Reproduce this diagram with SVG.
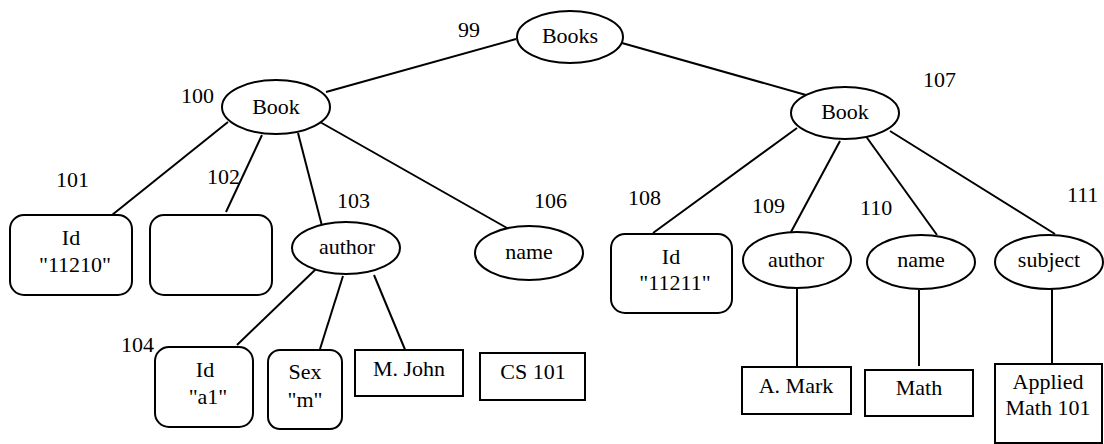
<svg xmlns="http://www.w3.org/2000/svg" width="1104" height="444" viewBox="0 0 1104 444">
<style>
.n{fill:#fff;stroke:#000;stroke-width:2}
text{font-family:'Liberation Serif','DejaVu Serif',serif;font-size:22px;fill:#000}
.t{text-anchor:middle}
#edges line{stroke:#000;stroke-width:2}
</style>
<rect width="1104" height="444" fill="#fff"/>
<g id="edges">
<line x1="516" y1="39" x2="326" y2="92"/>
<line x1="622" y1="43" x2="806" y2="95"/>
<line x1="228" y1="122" x2="112" y2="215"/>
<line x1="262" y1="135" x2="226" y2="212"/>
<line x1="298" y1="133" x2="322" y2="226"/>
<line x1="320" y1="122" x2="507" y2="228"/>
<line x1="316" y1="269" x2="237" y2="345"/>
<line x1="343" y1="276" x2="320" y2="349"/>
<line x1="374" y1="275" x2="406" y2="352"/>
<line x1="797" y1="128" x2="653" y2="233"/>
<line x1="840" y1="141" x2="791" y2="232"/>
<line x1="865" y1="135" x2="937" y2="235"/>
<line x1="890" y1="131" x2="1055" y2="234"/>
<line x1="797" y1="289" x2="797" y2="367"/>
<line x1="919" y1="290" x2="919" y2="366"/>
<line x1="1052" y1="289" x2="1052" y2="364"/>
</g>
<g id="labels" font-family="Liberation Serif, serif">
<text x="458" y="37">99</text>
<text x="181" y="103">100</text>
<text x="56" y="187">101</text>
<text x="207" y="184">102</text>
<text x="337" y="208">103</text>
<text x="121" y="352">104</text>
<text x="534" y="208">106</text>
<text x="923" y="87">107</text>
<text x="628" y="205">108</text>
<text x="752" y="213">109</text>
<text x="860" y="215">110</text>
<text x="1067" y="202">111</text>
</g>
<g id="books"><ellipse class="n" cx="570" cy="37" rx="53" ry="26"/><text class="t" x="570" y="43">Books</text></g>
<g id="book100"><ellipse class="n" cx="276" cy="107" rx="54" ry="27"/><text class="t" x="276" y="114">Book</text></g>
<g id="book107"><ellipse class="n" cx="845" cy="113" rx="54" ry="26"/><text class="t" x="845" y="119">Book</text></g>
<g id="id101"><rect class="n" x="10" y="215" width="122" height="80" rx="14"/><text class="t" x="71" y="245">Id</text><text class="t" x="75" y="272">"11210"</text></g>
<g id="n102"><rect class="n" x="150" y="215" width="122" height="80" rx="14"/></g>
<g id="author103"><ellipse class="n" cx="346" cy="248" rx="54" ry="26"/><text class="t" x="347" y="254">author</text></g>
<g id="name106"><ellipse class="n" cx="529" cy="253" rx="54" ry="27"/><text class="t" x="529" y="259">name</text></g>
<g id="id104"><rect class="n" x="155" y="347" width="98" height="80" rx="14"/><text class="t" x="205" y="377">Id</text><text class="t" x="208" y="404">"a1"</text></g>
<g id="sex"><rect class="n" x="268" y="350" width="74" height="79" rx="12"/><text class="t" x="305" y="379">Sex</text><text class="t" x="305" y="407">"m"</text></g>
<g id="mjohn"><rect class="n" x="355" y="350" width="108" height="46"/><text class="t" x="409" y="376">M. John</text></g>
<g id="cs101"><rect class="n" x="480" y="353" width="105" height="47"/><text class="t" x="533" y="379">CS 101</text></g>
<g id="id108"><rect class="n" x="611" y="234" width="121" height="79" rx="14"/><text class="t" x="671" y="264">Id</text><text class="t" x="675" y="290">"11211"</text></g>
<g id="author109"><ellipse class="n" cx="797" cy="260" rx="54" ry="28"/><text class="t" x="796" y="267">author</text></g>
<g id="name110"><ellipse class="n" cx="921" cy="262" rx="54" ry="27"/><text class="t" x="921" y="267">name</text></g>
<g id="subject111"><ellipse class="n" cx="1049" cy="262" rx="54" ry="27"/><text class="t" x="1049" y="267">subject</text></g>
<g id="amark"><rect class="n" x="742" y="367" width="109" height="47"/><text class="t" x="796" y="393">A. Mark</text></g>
<g id="math"><rect class="n" x="865" y="370" width="108" height="46"/><text class="t" x="919" y="395">Math</text></g>
<g id="applied"><rect class="n" x="995" y="364" width="107" height="79"/><text class="t" x="1048" y="389">Applied</text><text class="t" x="1048" y="415">Math 101</text></g>
</svg>
